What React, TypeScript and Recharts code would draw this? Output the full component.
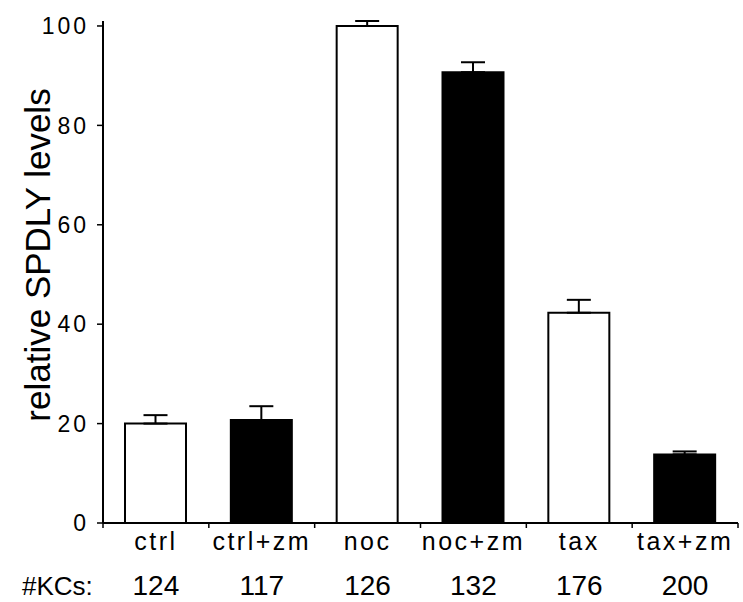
import React from 'react'
import { BarChart, Bar, XAxis, YAxis, Cell, ErrorBar } from 'recharts'

const categories = ['ctrl', 'ctrl+zm', 'noc', 'noc+zm', 'tax', 'tax+zm']
const kcCounts = [124, 117, 126, 132, 176, 200]
const spdlyLevels = [20.0, 20.7, 100, 90.7, 42.3, 13.8]
const spdlyErrors = [1.7, 2.8, 1.0, 2.0, 2.6, 0.6]
const yTicks = [0, 20, 40, 60, 80, 100]

const data = categories.map((name, i) => ({
  name,
  count: kcCounts[i],
  level: spdlyLevels[i],
  err: [0, spdlyErrors[i]],
  zm: name.includes('+zm'),
}))

const font = '"Liberation Sans", Arial, sans-serif'

// category label + cell count, plus small tick marks on the category boundaries
function CategoryTick(props: any) {
  const { x, y, payload, index } = props
  const row = data[index]
  const half = payload.offset ?? 0
  return (
    <g>
      <line x1={x - half} x2={x - half} y1={y} y2={y + 5} stroke="#000" strokeWidth={1.5} />
      {index === categories.length - 1 && (
        <line x1={x + half} x2={x + half} y1={y} y2={y + 5} stroke="#000" strokeWidth={1.5} />
      )}
      <text x={x} y={y + 27} textAnchor="middle" fontSize={25} letterSpacing={2.5} fontFamily={font} fill="#000">
        {payload.value}
      </text>
      <text x={x} y={y + 72} textAnchor="middle" fontSize={28} fontFamily={font} fill="#000">
        {row ? row.count : ''}
      </text>
      {index === 0 && (
        <text x={22} y={y + 72} fontSize={26} fontFamily={font} fill="#000">
          #KCs:
        </text>
      )}
    </g>
  )
}

export default function App() {
  return (
    <div style={{ position: 'absolute', left: 0, top: 0, width: 743, height: 602, background: '#fff' }}>
      <BarChart width={743} height={602} data={data} margin={{ top: 21, right: 5, left: 0, bottom: 0 }} barSize={61}>
        <XAxis
          dataKey="name"
          height={79}
          axisLine={{ stroke: '#000', strokeWidth: 2 }}
          tickLine={false}
          tickSize={0}
          tickMargin={0}
          interval={0}
          tick={<CategoryTick />}
        />
        <YAxis
          width={103}
          domain={[0, 100]}
          ticks={yTicks}
          interval={0}
          tickSize={6}
          tickMargin={8}
          axisLine={{ stroke: '#000', strokeWidth: 2 }}
          tickLine={{ stroke: '#000', strokeWidth: 1.5 }}
          tick={{ fill: '#000', fontSize: 23, fontFamily: font, letterSpacing: 3 }}
          label={{
            content: () => (
              <text
                transform="translate(50, 255) rotate(-90)"
                textAnchor="middle"
                fontSize={35}
                fontFamily={font}
                fill="#000"
              >
                relative SPDLY levels
              </text>
            ),
          }}
        />
        <Bar dataKey="level" stroke="#000" strokeWidth={2} isAnimationActive={false}>
          {data.map((d) => (
            <Cell key={d.name} fill={d.zm ? '#000' : '#fff'} />
          ))}
          <ErrorBar dataKey="err" direction="y" width={12} stroke="#000" strokeWidth={2} isAnimationActive={false} />
        </Bar>
      </BarChart>
    </div>
  )
}
